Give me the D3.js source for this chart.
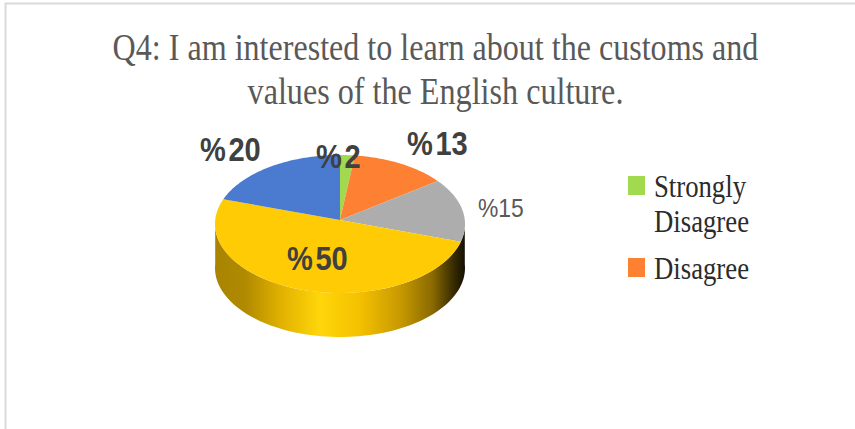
<!DOCTYPE html>
<html>
<head>
<meta charset="utf-8">
<script src="https://cdn.jsdelivr.net/npm/d3@7"></script>
<style>
  html, body { margin: 0; padding: 0; background: #fff; }
  svg { display: block; }
</style>
</head>
<body>
<svg id="chart" width="855" height="429"></svg>
<script>
const titleLines = ["Q4: I am interested to learn about the customs and", "values of the English culture."];
const categories = ["Strongly Disagree", "Disagree", "Neutral", "Agree", "Strongly Agree"];
const values = [2, 13, 15, 50, 20];
const labels = ["%2", "%13", "%15", "%50", "%20"];
const colors = ["#a1d94f", "#fd8033", "#adadad", "#ffcb05", "#4a7bd0"];
const legendItems = [["Strongly", "Disagree"], ["Disagree"]];
const legendColors = ["#a1d94f", "#fd8033"];
const sideStops = [
  [0, "#a88400"], [0.12, "#b08a00"], [0.26, "#e0b000"], [0.42, "#ffd60a"], [0.58, "#f5c000"],
  [0.74, "#c89a00"], [0.87, "#8a6a00"], [0.95, "#3c2e00"], [1, "#140f00"]
];

const svg = d3.select("#chart");
const rimCx = 340, rimCy = 224, rx = 125, ry = 69, depth = 44;
const apex = { x: 340, y: 220 };

// Tilted-disc projection: angle measured clockwise from the top of the rim,
// with a small correction for the foreshortening of the far side.
const skew = 3.2 * Math.PI / 180;
const rim = a => {
  const t = a - skew * Math.sin(a);
  return [rimCx + rx * Math.sin(t), rimCy - ry * Math.cos(t)];
};
const pieLayout = d3.pie().sort(null).value(d => d);
const arcs = pieLayout(values);

// Frame of the slide
svg.append("path")
  .attr("d", "M5.5,429V3.5H855")
  .attr("fill", "none")
  .attr("stroke", "#d9d9d9")
  .attr("stroke-width", 2);

// Title: narrow the serif face to the wanted line widths
const titleWidths = [646, 376];
svg.append("g").selectAll("text").data(titleLines).join("text")
  .attr("text-anchor", "middle")
  .attr("font-family", "'Liberation Serif', serif")
  .attr("font-size", 38)
  .attr("fill", "#595959")
  .text(d => d)
  .attr("transform", function (d, i) {
    const k = titleWidths[i] / this.getComputedTextLength();
    return `translate(435.5,${60 + i * 44}) scale(${k},1)`;
  });

// Side wall of the disc
const grad = svg.append("defs").append("linearGradient")
  .attr("id", "wall")
  .attr("gradientUnits", "userSpaceOnUse")
  .attr("x1", rimCx - rx).attr("x2", rimCx + rx)
  .attr("y1", 0).attr("y2", 0);
grad.selectAll("stop").data(sideStops).join("stop")
  .attr("offset", d => d[0])
  .attr("stop-color", d => d[1]);

const frontAngles = d3.range(Math.PI / 2, 3 * Math.PI / 2 + 0.001, Math.PI / 90);
const wallLine = d3.line();
const lower = frontAngles.map(a => { const p = rim(a); return [p[0], p[1] + depth]; });
const upper = frontAngles.map(rim).reverse();
svg.append("path")
  .attr("d", wallLine(lower.concat(upper)) + "Z")
  .attr("fill", "url(#wall)");

// Top face slices
svg.append("g").selectAll("path").data(arcs).join("path")
  .attr("d", d => {
    const n = Math.max(2, Math.ceil((d.endAngle - d.startAngle) / 0.02));
    const pts = d3.range(n + 1).map(i => rim(d.startAngle + (d.endAngle - d.startAngle) * i / n));
    return wallLine([[apex.x, apex.y], ...pts]) + "Z";
  })
  .attr("fill", (d, i) => colors[i]);

// Data labels: percent sign and number, condensed horizontally
const labelX = d3.scaleOrdinal().domain(labels).range([316, 407, 478, 287, 200]);
const labelY = d3.scaleOrdinal().domain(labels).range([168, 155, 217, 270, 161]);
const labelText = svg.append("g").selectAll("text").data(labels).join("text")
  .attr("transform", d => `translate(${labelX(d)},${labelY(d)}) scale(0.88,1)`)
  .attr("font-family", "'Liberation Sans', sans-serif")
  .attr("font-weight", d => d === "%15" ? 400 : 700)
  .attr("font-size", d => d === "%15" ? 26 : 33)
  .attr("fill", d => d === "%15" ? "#595959" : "#404040");
labelText.append("tspan").text("%");
labelText.append("tspan").attr("dx", d => d === "%15" ? 0 : 3).text(d => d.slice(1));

// Legend
const legendY = [186, 268];
const legend = svg.append("g");
legendItems.forEach((lines, i) => {
  legend.append("rect")
    .attr("x", 628).attr("y", legendY[i] - 10)
    .attr("width", 17).attr("height", 19)
    .attr("fill", legendColors[i]);
  lines.forEach((line, j) => {
    legend.append("text")
      .attr("x", 654).attr("y", legendY[i] + 11 + j * 35)
      .attr("font-family", "'Liberation Serif', serif")
      .attr("font-size", 31)
      .attr("fill", "#2b2b2b")
      .attr("textLength", line === "Strongly" ? 92 : 95)
      .attr("lengthAdjust", "spacingAndGlyphs")
      .text(line);
  });
});
</script>
</body>
</html>
